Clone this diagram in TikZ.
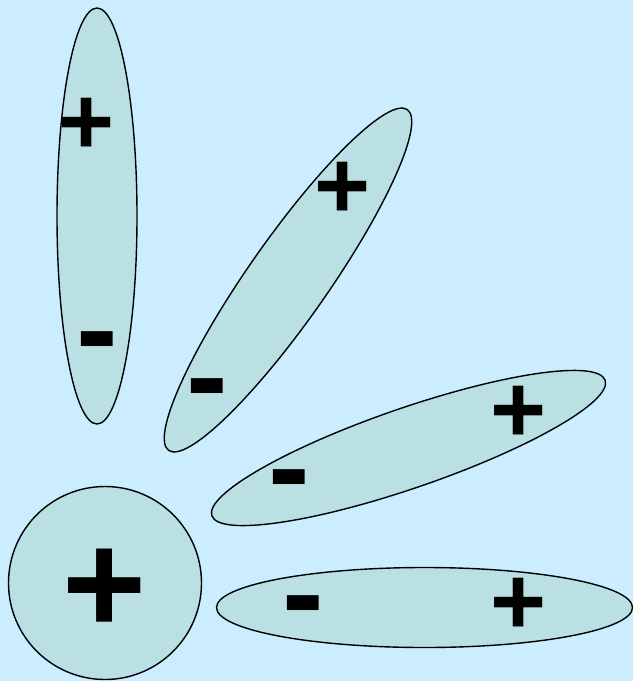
\documentclass[tikz,border=0pt]{standalone}
\usepackage{fontspec}
\setmainfont{Liberation Sans}
\usetikzlibrary{shapes.geometric}
\definecolor{bgblue}{RGB}{204,236,255}
\definecolor{cellfill}{RGB}{187,224,227}
\tikzset{
  cell/.style={shape=ellipse, draw=black, line width=1.4pt, fill=cellfill,
    minimum width=416pt, minimum height=80pt, inner sep=0pt},
  plussign/.style={inner sep=0pt, yshift=-4pt, font=\bfseries\fontsize{96}{96}\selectfont},
  minussign/.style={inner sep=0pt, yshift=-14pt, font=\bfseries\fontsize{125}{125}\selectfont},
  bigplus/.style={inner sep=0pt, yshift=-6pt, font=\bfseries\fontsize{144}{144}\selectfont}
}
\begin{document}
\begin{tikzpicture}[x=1pt,y=-1pt]
\fill[bgblue] (0,0) rectangle (633,681);
\useasboundingbox (0,0) rectangle (633,681);
\node[cell, rotate=90] (e1) at (97,216) {};
\node[cell, rotate=55] (e2) at (288,280) {};
\node[cell, rotate=19] (e3) at (408.5,448) {};
\node[cell] (e5) at (424.5,607.5) {};
\node[shape=circle, draw=black, line width=1.4pt, fill=cellfill, minimum size=193pt, inner sep=0pt] (c) at (105,583) {};
\node[plussign] (p1) at (87,122) {+};
\node[minussign] (m1) at (97,338) {-};
\node[plussign] (p2) at (343,186) {+};
\node[minussign] (m2) at (207,385) {-};
\node[plussign] (p3) at (519,410) {+};
\node[minussign] (m3) at (289,476) {-};
\node[plussign] (p5) at (519,602) {+};
\node[minussign] (m5) at (303.5,602) {-};
\node[bigplus] (pc) at (105,585) {+};
\end{tikzpicture}
\end{document}
